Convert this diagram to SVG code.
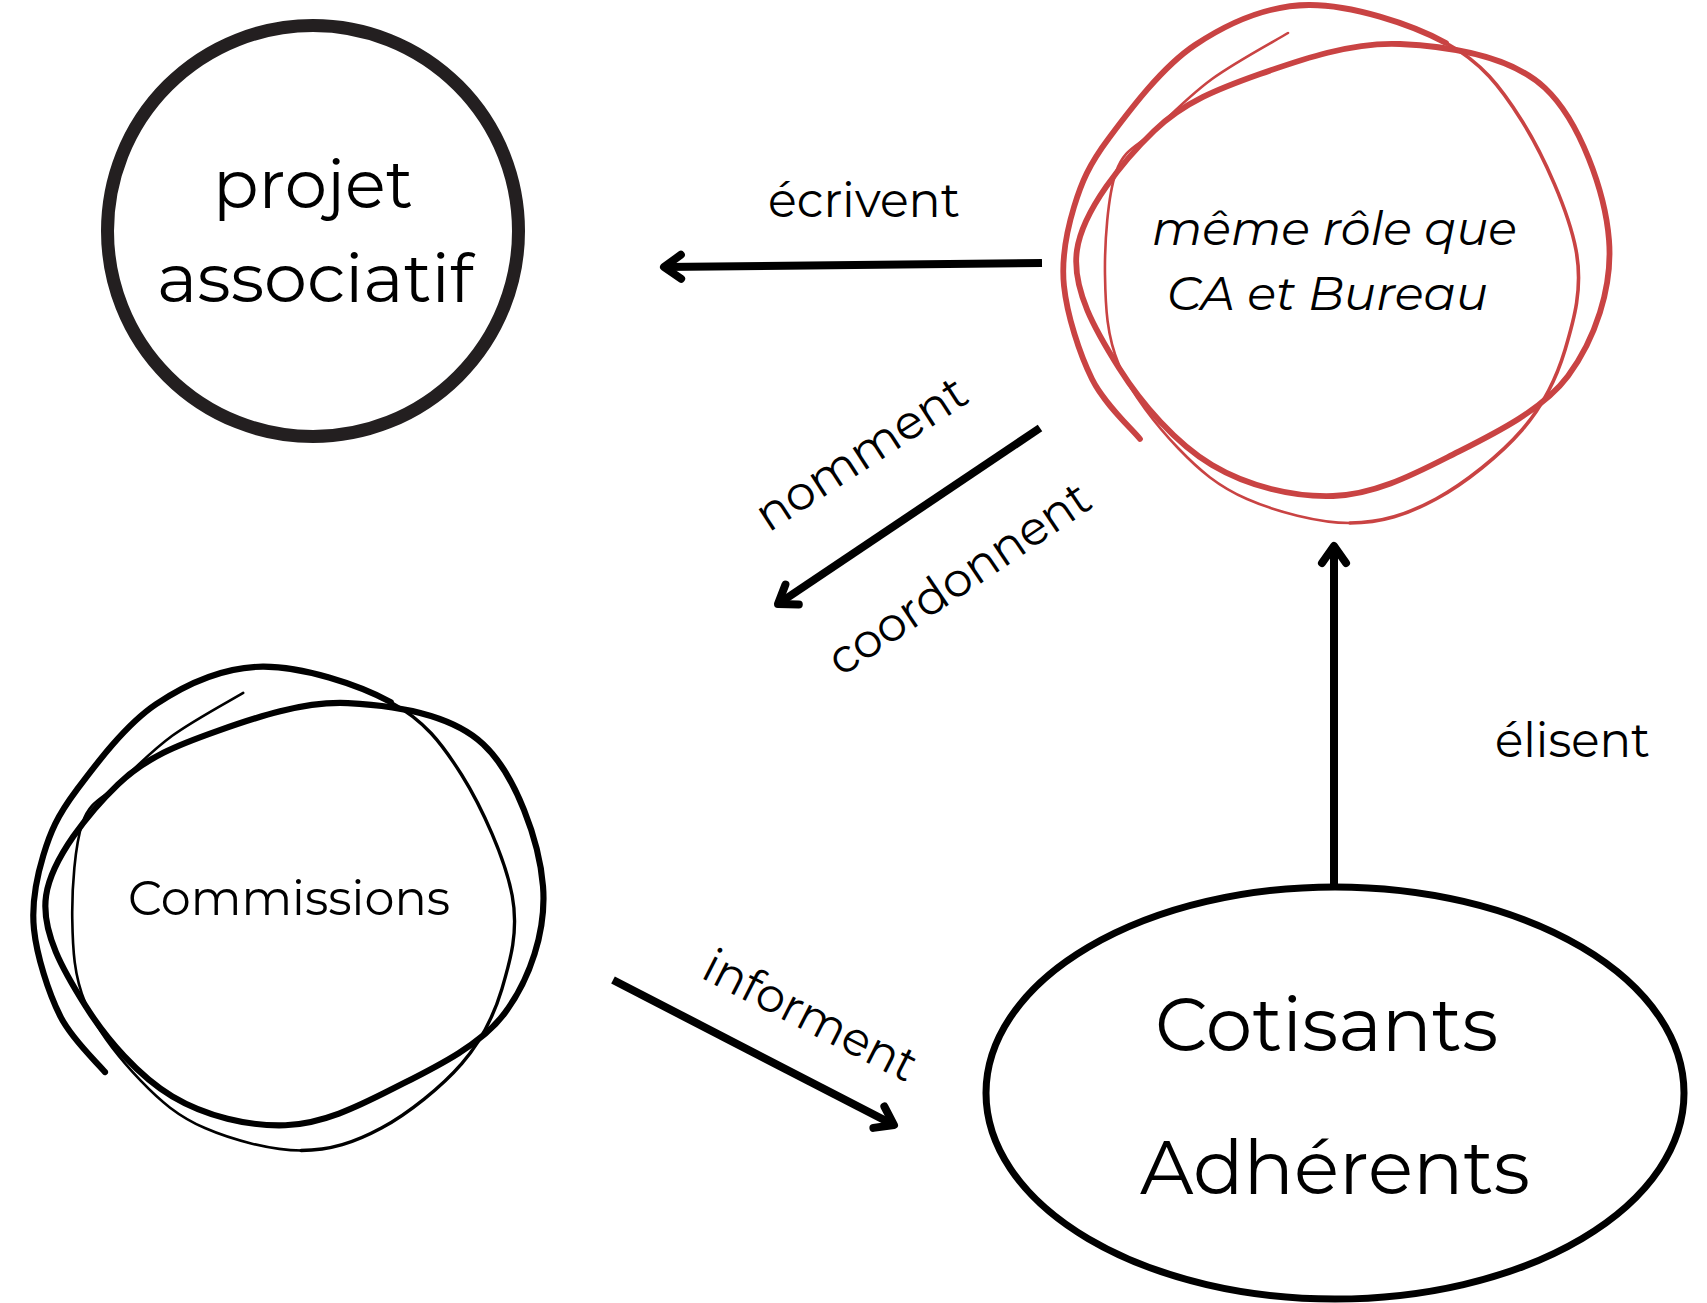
<svg xmlns="http://www.w3.org/2000/svg" xmlns:xlink="http://www.w3.org/1999/xlink" width="1707" height="1303" viewBox="0 0 1707 1303">
<style>
.t{font-family:Montserrat,"Open Sans","Noto Sans",sans-serif;fill:#000;}
.lbl{font-size:48px;}
.sk{fill:none;stroke:currentColor;stroke-linecap:round;stroke-linejoin:round;}
.w1{stroke-width:var(--w1,5.8);}
.w2{stroke-width:var(--w2,3.6);}
.w3{stroke-width:var(--w3,2.6);}
.conn{fill:none;stroke:#000;stroke-width:8;stroke-linecap:butt;}
</style>
<defs>
<marker id="ah" viewBox="-30 -20 40 40" refX="0" refY="0" markerWidth="40" markerHeight="40" markerUnits="userSpaceOnUse" orient="auto" overflow="visible">
<path d="M-17,-12 L0,0 L-17,12" fill="none" stroke="#000" stroke-width="8" stroke-linecap="round" stroke-linejoin="round"/>
</marker>
<g id="scribble">
<path class="sk w1" d="M1077,250 C1082.8,210.5 1123.5,160.3 1154,131 C1184.5,101.7 1219,88.5 1260,74 C1301,59.5 1352.5,41.7 1400,44 C1447.5,46.3 1510.2,55.3 1545,88 C1579.8,120.7 1605.2,192 1609,240 C1612.8,288 1594.8,339.8 1568,376 C1541.2,412.2 1487.2,437 1448,457 C1408.8,477 1372.3,494.7 1333,496 C1293.7,497.3 1247.7,486.3 1212,465 C1176.3,443.7 1141.5,403.8 1119,368 C1096.5,332.2 1071.2,289.5 1077,250 Z"/>
<path class="sk w1" d="M1140,439 C1132,429 1104.7,404.5 1092,379 C1079.3,353.5 1067,314.7 1064,286 C1061,257.3 1066.5,231.7 1074,207 C1081.5,182.3 1088.8,165 1109,138 C1129.2,111 1161.7,67.2 1195,45 C1228.3,22.8 1267.2,5.3 1309,5 C1350.8,4.7 1410.5,23.7 1446,43"/>
<path class="sk w2" d="M1446,43 C1481.5,62.3 1500.3,86.5 1522,121 C1543.7,155.5 1568.8,211.8 1576,250 C1583.2,288.2 1574,320 1565,350 C1556,380 1543.5,405.2 1522,430 C1500.5,454.8 1464.7,483.5 1436,499 C1407.3,514.5 1381.5,523 1350,523"/>
<path class="sk w3" d="M1350,523 C1318.5,523 1275.7,511.5 1247,499 C1218.3,486.5 1199.3,470.3 1178,448 C1156.7,425.7 1131.2,393.8 1119,365 C1106.8,336.2 1105.5,307.2 1105,275 C1104.5,242.8 1107.8,196 1116,172 C1124.2,148 1138,146.5 1154,131 C1170,115.5 1189.7,95.3 1212,79 C1234.3,62.7 1275.3,40.7 1288,33"/>
</g>
</defs>
<rect width="1707" height="1303" fill="#fff"/>

<g id="projet-associatif">
<circle cx="313" cy="231" r="205.5" fill="none" stroke="#231f20" stroke-width="13"/>
<text class="t" x="313" y="208" font-size="68" text-anchor="middle" textLength="200" lengthAdjust="spacingAndGlyphs">projet</text>
<text class="t" x="315" y="302" font-size="68" text-anchor="middle" textLength="316" lengthAdjust="spacingAndGlyphs">associatif</text>
</g>

<g id="ca-bureau" color="#c94343">
<use xlink:href="#scribble" href="#scribble"/>
<text class="t" x="1334.5" y="244.5" font-size="47" font-style="italic" text-anchor="middle" textLength="365" lengthAdjust="spacingAndGlyphs">même rôle que</text>
<text class="t" x="1327.5" y="310" font-size="47" font-style="italic" text-anchor="middle" textLength="321" lengthAdjust="spacingAndGlyphs">CA et Bureau</text>
</g>

<g id="commissions" color="#000">
<use xlink:href="#scribble" href="#scribble" transform="translate(-959.8 662) scale(0.934)" style="--w1:6.6;--w2:3.6;--w3:2.8"/>
<text class="t" x="289" y="915" font-size="49" text-anchor="middle" textLength="322" lengthAdjust="spacingAndGlyphs">Commissions</text>
</g>

<g id="cotisants-adherents">
<ellipse cx="1335" cy="1093" rx="349" ry="206" fill="none" stroke="#000" stroke-width="7"/>
<text class="t" x="1326.5" y="1051" font-size="75" text-anchor="middle" textLength="343" lengthAdjust="spacingAndGlyphs">Cotisants</text>
<text class="t" x="1335" y="1194" font-size="75" text-anchor="middle" textLength="390" lengthAdjust="spacingAndGlyphs">Adhérents</text>
</g>

<g id="connectors">
<path class="conn" d="M1042,263 L664,267" marker-end="url(#ah)"/>
<path class="conn" d="M1040,428 L778,604" marker-end="url(#ah)"/>
<path class="conn" d="M1334,884 L1334,546" marker-end="url(#ah)"/>
<path class="conn" d="M613,980 L894,1125" marker-end="url(#ah)"/>
<text class="t lbl" x="864" y="217" text-anchor="middle" textLength="192" lengthAdjust="spacingAndGlyphs">écrivent</text>
<text class="t lbl" x="0" y="0" text-anchor="middle" textLength="242" lengthAdjust="spacingAndGlyphs" transform="translate(870 467) rotate(-33)">nomment</text>
<text class="t lbl" x="0" y="0" text-anchor="middle" textLength="306" lengthAdjust="spacingAndGlyphs" transform="translate(968 592) rotate(-34)">coordonnent</text>
<text class="t lbl" x="1572.5" y="757" font-size="47" text-anchor="middle" textLength="155" lengthAdjust="spacingAndGlyphs">élisent</text>
<text class="t lbl" x="0" y="0" text-anchor="middle" textLength="233" lengthAdjust="spacingAndGlyphs" transform="translate(803 1030) rotate(27)">informent</text>
</g>
</svg>
